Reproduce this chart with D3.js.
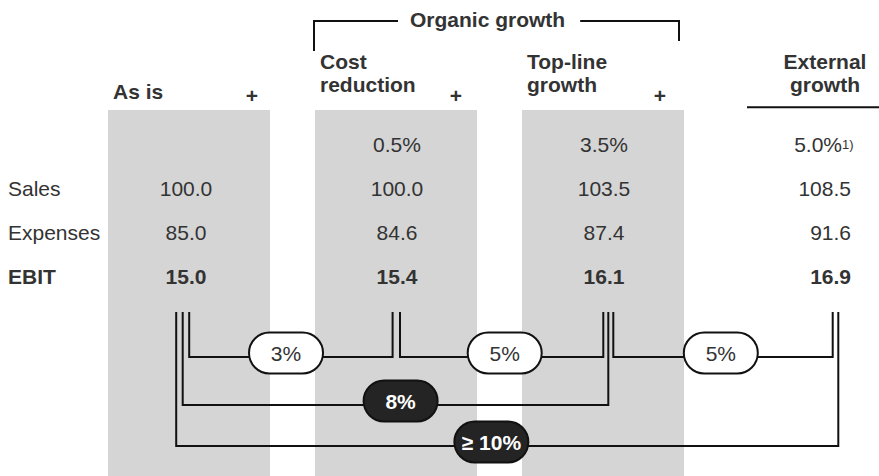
<!DOCTYPE html>
<html>
<head>
<meta charset="utf-8">
<script src="https://cdn.jsdelivr.net/npm/d3@7/dist/d3.min.js"></script>
<style>
  html, body { margin: 0; padding: 0; background: #fff; }
  svg { display: block; font-family: "Liberation Sans", Arial, Helvetica, sans-serif; }
</style>
</head>
<body>
<svg id="chart" width="879" height="476"></svg>
<script>
// EBIT bridge: as-is, organic levers (cost reduction, top-line growth) and external growth
const columns = ["As is", "Cost reduction", "Top-line growth", "External growth"];
const headerLines = [["As is"], ["Cost", "reduction"], ["Top-line", "growth"], ["External", "growth"]];
const rowLabels = ["", "Sales", "Expenses", "EBIT"];
const rates = [null, 0.5, 3.5, 5.0];          // lever effect in %
const sales = [100.0, 100.0, 103.5, 108.5];
const expenses = [85.0, 84.6, 87.4, 91.6];
const ebit = [15.0, 15.4, 16.1, 16.9];
const rateNotes = [null, null, null, "1)"];

// EBIT uplift between scenarios
const linkFrom = [0, 1, 2, 0, 0];
const linkTo = [1, 2, 3, 2, 3];
const linkLabels = ["3%", "5%", "5%", "8%", "\u2265 10%"];
const linkDark = [false, false, false, true, true];

const groupLabel = "Organic growth";

// ---- layout ----
const W = 879, H = 476;
const svg = d3.select("#chart");
const textColor = "#333";
const lineColor = "#111";
const fs = 21;

const x = d3.scaleBand().domain(d3.range(columns.length))
  .range([108, 891]).paddingInner(45 / 207).paddingOuter(0);
const bw = x.bandwidth();
const cx = i => x(i) + bw / 2;

const y = d3.scalePoint().domain(d3.range(rowLabels.length)).range([152, 284]);

// shaded columns (as is + organic levers)
svg.append("g").selectAll("rect")
  .data(d3.range(3))
  .join("rect")
  .attr("x", i => x(i)).attr("y", 110)
  .attr("width", bw).attr("height", H - 110)
  .attr("fill", "#d5d5d5");

// column headers
const hdr = svg.append("g").attr("fill", textColor)
  .attr("font-size", fs).attr("font-weight", "bold");
headerLines.forEach((lines, i) => {
  const last = columns.length - 1;
  const t = hdr.append("text")
    .attr("x", i === last ? cx(i) + 15 : x(i) + 5)
    .attr("text-anchor", i === last ? "middle" : "start");
  lines.forEach((ln, k) => {
    const base = lines.length === 1 ? 99 : (k === 0 ? 69 : 92);
    t.append("tspan").attr("x", i === last ? cx(i) + 15 : x(i) + 5).attr("y", base).text(ln);
  });
});
// plus signs between steps
svg.append("g").selectAll("text")
  .data(d3.range(3))
  .join("text")
  .attr("x", i => x(i) + bw - 18 - 3 * i)
  .attr("y", 102.5)
  .attr("text-anchor", "middle")
  .attr("font-size", fs).attr("font-weight", "bold")
  .attr("fill", textColor)
  .text("+");

// underline under external growth
svg.append("line")
  .attr("x1", 747).attr("x2", W).attr("y1", 107.3).attr("y2", 107.3)
  .attr("stroke", lineColor).attr("stroke-width", 2);

// organic growth bracket
{
  const left = x(1) - 1, right = x(2) + bw - 5, top = 21;
  const lbl = svg.append("text")
    .attr("x", left + 96).attr("y", 26.5)
    .attr("font-size", fs).attr("font-weight", "bold")
    .attr("fill", textColor).text(groupLabel);
  const tw = lbl.node().getComputedTextLength();
  const g = svg.append("g").attr("stroke", lineColor).attr("stroke-width", 2).attr("fill", "none");
  g.append("path").attr("d", `M${left},51V${top}H${left + 84}`);
  g.append("path").attr("d", `M${left + 96 + tw + 15},${top}H${right}V41`);
}

// row labels
svg.append("g").selectAll("text")
  .data(rowLabels)
  .join("text")
  .attr("x", 8).attr("y", (d, i) => y(i))
  .attr("font-size", fs)
  .attr("font-weight", (d, i) => i === 3 ? "bold" : null)
  .attr("fill", textColor)
  .text(d => d);

// table values
const fmt1 = d3.format(".1f");
const valX = i => i === 3 ? cx(i) + 41 : cx(i) + (i === 0 ? -3 : 1);
const valAnchor = i => i === 3 ? "end" : "middle";
const rows = [
  rates.map(v => v == null ? "" : fmt1(v) + "%"),
  sales.map(fmt1),
  expenses.map(fmt1),
  ebit.map(fmt1)
];
const vals = svg.append("g").attr("fill", textColor).attr("font-size", fs);
rows.forEach((row, r) => {
  row.forEach((txt, i) => {
    if (!txt) return;
    const isRate = r === 0;
    const note = isRate ? rateNotes[i] : null;
    const t = vals.append("text")
      .attr("x", note ? valX(i) - 9 : valX(i))
      .attr("y", y(r))
      .attr("text-anchor", valAnchor(i))
      .attr("font-weight", r === 3 ? "bold" : null)
      .text(txt);
    if (note) {
      vals.append("text")
        .attr("x", valX(i) - 9).attr("y", y(r) - 3)
        .attr("font-size", 13).text(note);
    }
  });
});

// EBIT uplift connectors
const colAnchor = i => cx(i) + [-6.3, 0.3, 5.3, 25.5][i];
const linkLayout = [
  { fromDx: 6.5, toDx: -3.7, lane: 357, at: 0.476 },
  { fromDx: 3.7, toDx: -5, lane: 357, at: 0.515 },
  { fromDx: 5, toDx: -2.8, lane: 357, at: 0.49 },
  { fromDx: 0, toDx: 0, lane: 405, at: 0.512 },
  { fromDx: -6.5, toDx: 2.8, lane: 446, at: 0.476 }
];
const links = linkLabels.map((label, k) => {
  const L = linkLayout[k];
  const x1 = colAnchor(linkFrom[k]) + L.fromDx;
  const x2 = colAnchor(linkTo[k]) + L.toDx;
  return { label, dark: linkDark[k], x1, x2, yl: L.lane, px: x1 + (x2 - x1) * L.at };
});

const lg = svg.append("g");
lg.selectAll("path")
  .data(links)
  .join("path")
  .attr("d", d => `M${d.x1},312V${d.yl}H${d.x2}V312`)
  .attr("fill", "none").attr("stroke", lineColor).attr("stroke-width", 2);

const pw = 74, ph = 41;
const pills = lg.selectAll("g.pill")
  .data(links)
  .join("g").attr("class", "pill")
  .attr("transform", d => `translate(${d.px},${d.yl - 4})`);
pills.append("rect")
  .attr("x", -pw / 2).attr("y", -ph / 2)
  .attr("width", pw).attr("height", ph)
  .attr("rx", ph / 2).attr("ry", ph / 2)
  .attr("fill", d => d.dark ? "#242424" : "#fff")
  .attr("stroke", lineColor).attr("stroke-width", 2);
pills.append("text")
  .attr("y", 7.5)
  .attr("text-anchor", "middle")
  .attr("font-size", fs)
  .attr("font-weight", d => d.dark ? "bold" : null)
  .attr("fill", d => d.dark ? "#fff" : textColor)
  .text(d => d.label);
</script>
</body>
</html>
